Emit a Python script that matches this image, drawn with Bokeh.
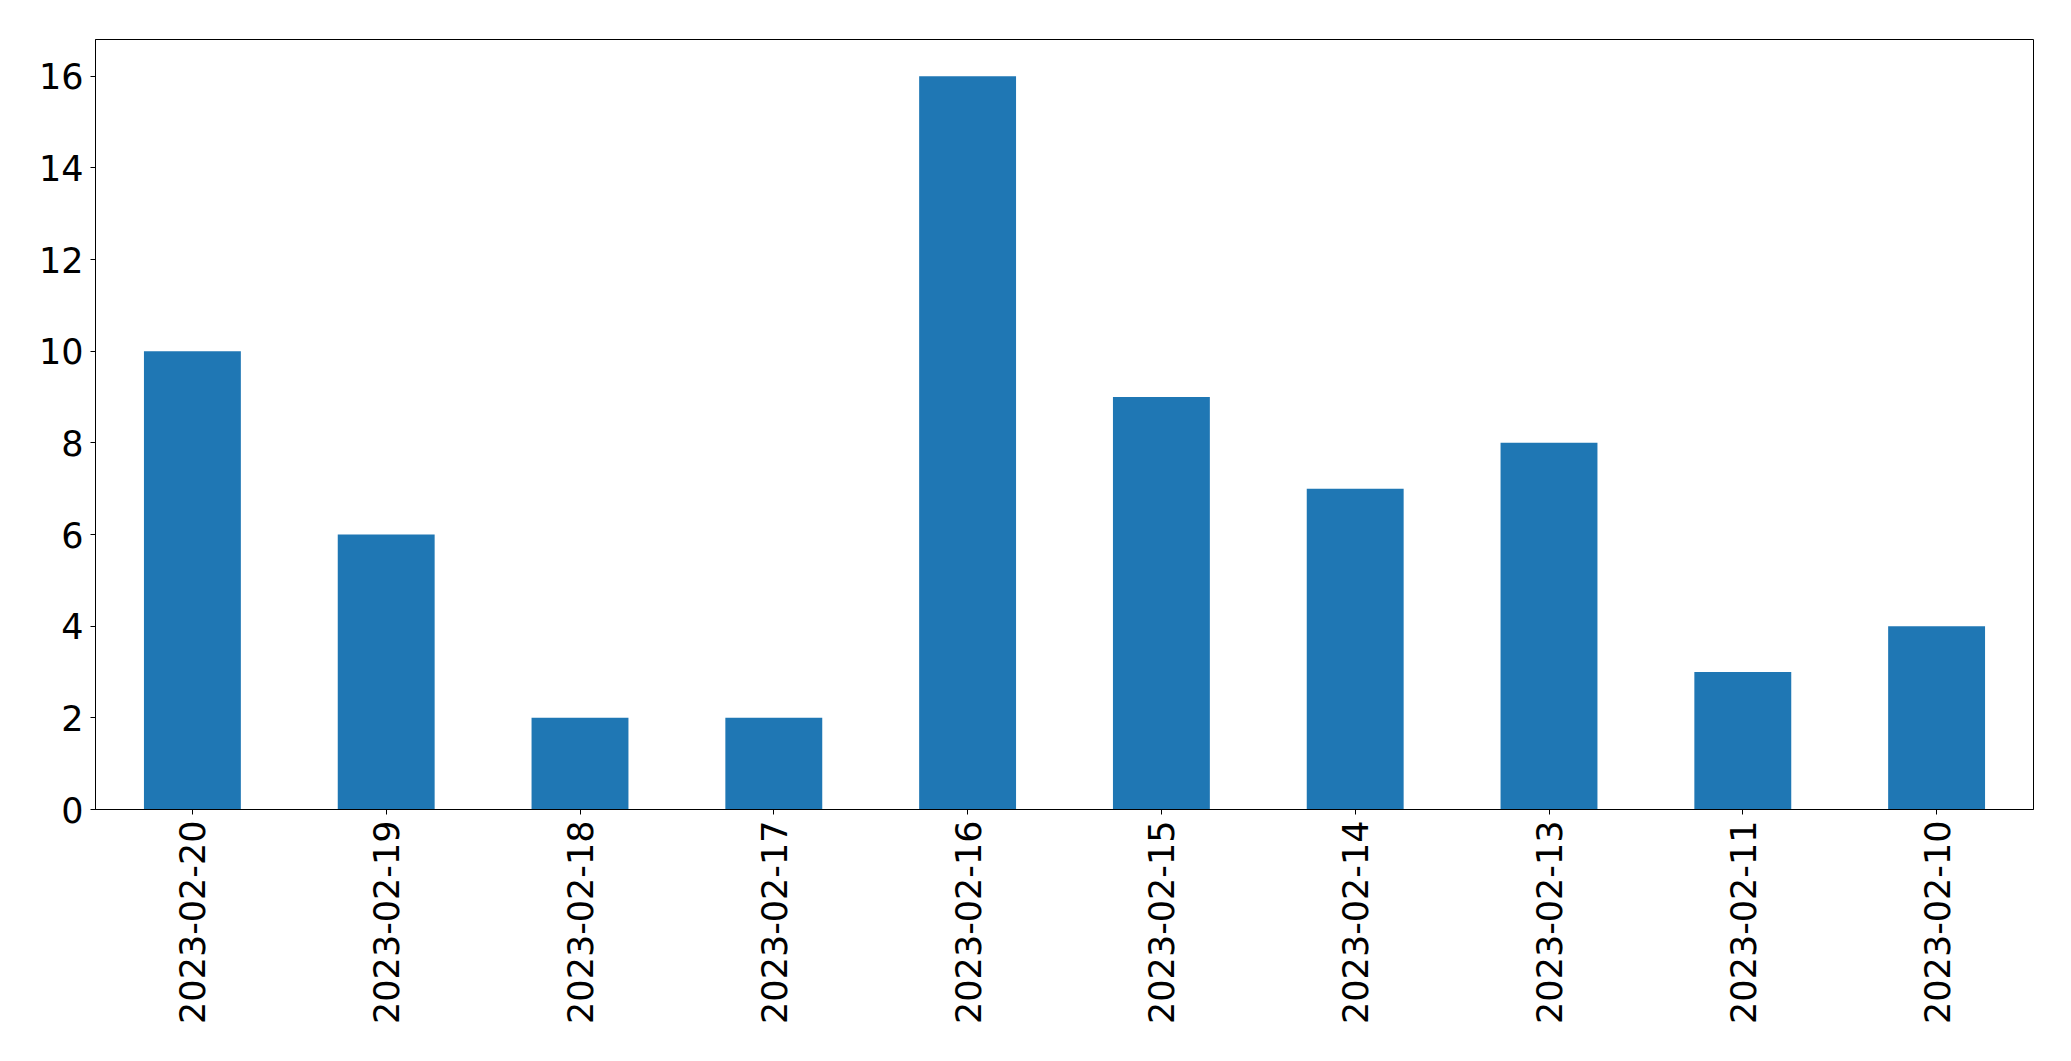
import math
from bokeh.plotting import figure
from bokeh.models import FactorRange, Range1d, FixedTicker, ColumnDataSource
from bokeh.embed import file_html
from bokeh.resources import INLINE

dates = ["2023-02-20", "2023-02-19", "2023-02-18", "2023-02-17", "2023-02-16",
         "2023-02-15", "2023-02-14", "2023-02-13", "2023-02-11", "2023-02-10"]
counts = [10, 6, 2, 2, 16, 9, 7, 8, 3, 4]
y_ticks = [0, 2, 4, 6, 8, 10, 12, 14, 16]

source = ColumnDataSource(dict(date=dates, count=counts))

p = figure(
    x_range=FactorRange(*dates, range_padding=0),
    y_range=Range1d(0, 16.8),
    frame_width=1938, frame_height=770,
    min_border_left=95, min_border_top=39, min_border_right=31, min_border_bottom=240,
    output_backend="svg", toolbar_location=None,
)

p.vbar(x="date", top="count", width=0.5, source=source,
       fill_color="#1f77b4", line_color=None)

p.xgrid.visible = False
p.ygrid.visible = False
p.outline_line_color = "black"
p.outline_line_width = 1
p.outline_line_alpha = 1

p.yaxis.ticker = FixedTicker(ticks=y_ticks)
for ax in (p.xaxis[0], p.yaxis[0]):
    ax.axis_line_color = "black"
    ax.axis_line_width = 1
    ax.major_tick_line_color = "black"
    ax.major_tick_line_width = 1
    ax.major_tick_out = 5
    ax.major_tick_in = 0
    ax.minor_tick_out = 0
    ax.minor_tick_in = 0
    ax.major_label_text_font = "DejaVu Sans"
    ax.major_label_text_font_size = "35px"
    ax.major_label_text_color = "black"

p.yaxis.major_label_standoff = 7
p.xaxis.major_label_standoff = 6
p.xaxis.major_label_orientation = math.pi / 2

open("out.html", "w").write(file_html(p, INLINE))
